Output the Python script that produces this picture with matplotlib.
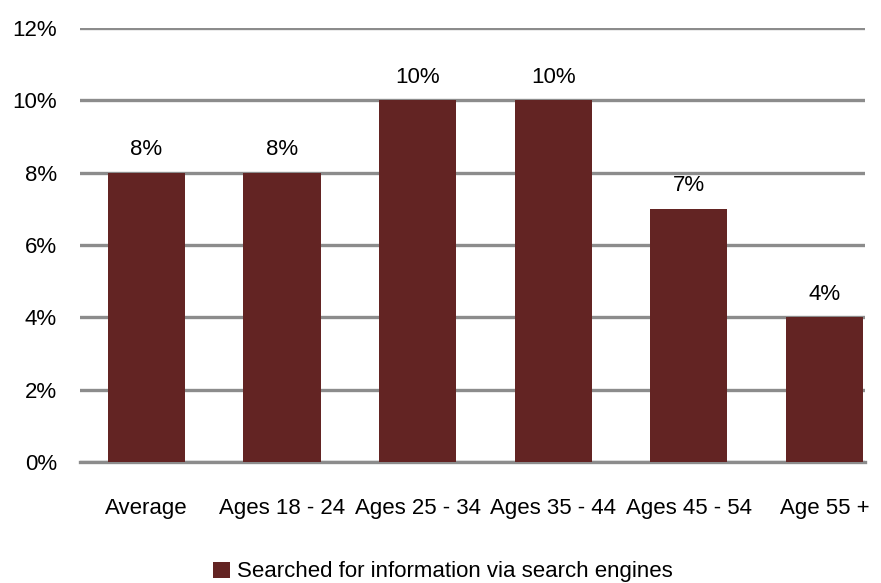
import matplotlib.pyplot as plt
from matplotlib.ticker import FuncFormatter

categories = ["Average", "Ages 18 - 24", "Ages 25 - 34", "Ages 35 - 44", "Ages 45 - 54", "Age 55 +"]
values = [8, 8, 10, 10, 7, 4]
series_name = "Searched for information via search engines"

plt.rcParams["font.family"] = ["Liberation Sans", "DejaVu Sans"]

bar_color = "#632423"
grid_color = "#8c8c8c"

fig = plt.figure(figsize=(8.81, 5.83), dpi=100)
ax = fig.add_axes([80 / 881, (583 - 462) / 583, (865 - 80) / 881, (462 - 28) / 583])

x = list(range(len(categories)))
bars = ax.bar(x, values, width=0.57, color=bar_color, label=series_name, zorder=3)

# value labels above bars
for xi, v in zip(x, values):
    ax.annotate(f"{v}%", (xi, v), xytext=(0, 9), textcoords="offset points",
                ha="center", va="bottom", fontsize=16, zorder=4)

ax.set_ylim(0, 12)
ax.set_xlim(-0.49, 5.3)
ax.set_yticks([0, 2, 4, 6, 8, 10, 12])
ax.yaxis.set_major_formatter(FuncFormatter(lambda v, p: f"{int(v)}%"))
ax.set_xticks(x)
ax.set_xticklabels(categories)

ax.yaxis.grid(True, color=grid_color, linewidth=2.4, zorder=0)
for s in ["top", "right", "left"]:
    ax.spines[s].set_visible(False)
ax.spines["bottom"].set_color(grid_color)
ax.spines["bottom"].set_linewidth(2.4)
ax.tick_params(axis="both", length=0, labelsize=16)
ax.tick_params(axis="y", pad=16.5)
ax.tick_params(axis="x", pad=26)

fig.legend(handles=[bars], labels=[series_name], loc="center", bbox_to_anchor=(443 / 881, 1 - 572 / 583),
           frameon=False, fontsize=16, handlelength=0.75, handleheight=0.75, handletextpad=0.35,
           borderpad=0)

fig.savefig("out.png", dpi=100)
